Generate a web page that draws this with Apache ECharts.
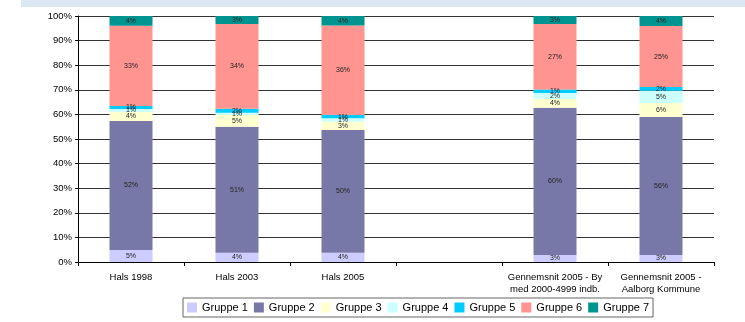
<!DOCTYPE html>
<html><head><meta charset="utf-8">
<script src="https://cdn.jsdelivr.net/npm/echarts@6/dist/echarts.min.js"></script>
<style>html,body{margin:0;padding:0;background:#fff}#c{width:745px;height:322px}</style>
</head><body><div id="c"></div>
<script>
const categories = ['Hals 1998', 'Hals 2003', 'Hals 2005', '', 'Gennemsnit 2005 - By\nmed 2000-4999 indb.', 'Gennemsnit 2005 -\nAalborg Kommune'];
const seriesNames = ['Gruppe 1', 'Gruppe 2', 'Gruppe 3', 'Gruppe 4', 'Gruppe 5', 'Gruppe 6', 'Gruppe 7'];
const gruppe1 = [4.9, 3.8, 3.8, null, 2.8, 2.8];
const gruppe2 = [52.4, 51.2, 49.9, null, 59.9, 56.1];
const gruppe3 = [3.7, 4.8, 3.4, null, 3.6, 5.7];
const gruppe4 = [1.2, 0.9, 1.3, null, 2.4, 5.0];
const gruppe5 = [1.2, 1.6, 1.4, null, 1.4, 1.5];
const gruppe6 = [32.6, 34.4, 36.3, null, 26.6, 24.8];
const gruppe7 = [4.0, 3.3, 3.9, null, 3.3, 4.1];
const yTicks = [0, 10, 20, 30, 40, 50, 60, 70, 80, 90, 100];
const colors = ['#ccccff', '#7878a8', '#ffffd0', '#ccffff', '#00ccff', '#ff9490', '#009490'];
const values = [gruppe1, gruppe2, gruppe3, gruppe4, gruppe5, gruppe6, gruppe7];

const chart = echarts.init(document.getElementById('c'), null, {renderer: 'canvas'});
const font = 'Liberation Sans, Arial, sans-serif';
chart.setOption({
  animation: false,
  textStyle: {fontFamily: font},
  graphic: [{type: 'rect', shape: {x: 21, y: 0, width: 724, height: 7}, style: {fill: '#dbe8f4'}, silent: true, z: -1}],
  grid: {left: 78, right: 31, top: 16, bottom: 60},
  legend: {
    data: seriesNames, left: 183, top: 298, itemWidth: 10, itemHeight: 10, itemGap: 6,
    padding: [4, 4], borderColor: '#666', borderWidth: 1,
    textStyle: {fontSize: 11, color: '#000', fontFamily: font},
    icon: 'rect'
  },
  xAxis: {
    type: 'category', data: categories,
    axisLine: {lineStyle: {color: '#000', width: 1}},
    axisTick: {show: true, length: 4, lineStyle: {color: '#000'}},
    axisLabel: {fontSize: 9.5, color: '#000', margin: 9, lineHeight: 12, interval: 0, fontFamily: font}
  },
  yAxis: {
    type: 'value', min: yTicks[0], max: yTicks[yTicks.length - 1], interval: 10,
    axisLine: {show: true, lineStyle: {color: '#000'}},
    axisTick: {show: true, length: 3, lineStyle: {color: '#000'}},
    axisLabel: {formatter: v => v + '%', fontSize: 9.5, color: '#000', margin: 6, fontFamily: font},
    splitLine: {lineStyle: {color: '#333', width: 1}}
  },
  series: seriesNames.map((n, i) => ({
    name: n, type: 'bar', stack: 'all', barWidth: 43,
    data: values[i],
    itemStyle: {color: colors[i]},
    label: {
      show: true, position: 'inside', fontSize: 7, color: '#222', fontFamily: font,
      formatter: p => p.value == null ? '' : Math.round(p.value) + '%'
    }
  }))
});
</script></body></html>
